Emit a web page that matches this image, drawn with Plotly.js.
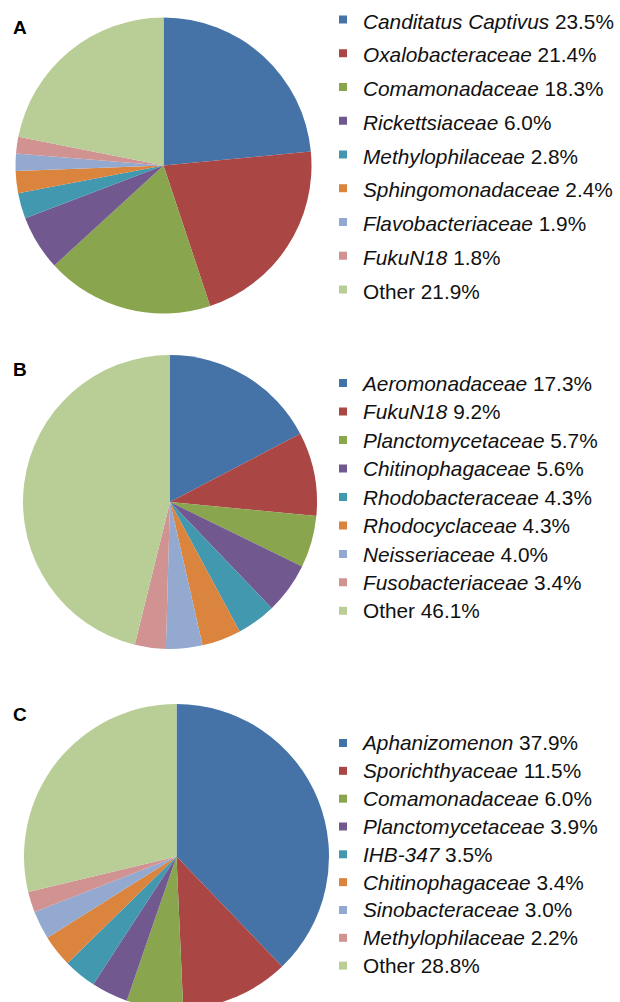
<!DOCTYPE html>
<html>
<head>
<meta charset="utf-8">
<script src="https://cdn.plot.ly/plotly-3.0.1.min.js"></script>
<style>
html, body { margin:0; padding:0; overflow:hidden; background:#fff; }
#chart { width:640px; height:1010px; }
</style>
</head>
<body>
<div id="chart"></div>
<script>
// ---- data ----
const namesA = ["Canditatus Captivus", "Oxalobacteraceae", "Comamonadaceae", "Rickettsiaceae", "Methylophilaceae", "Sphingomonadaceae", "Flavobacteriaceae", "FukuN18", "Other"];
const valuesA = [23.5, 21.4, 18.3, 6.0, 2.8, 2.4, 1.9, 1.8, 21.9];

const namesB = ["Aeromonadaceae", "FukuN18", "Planctomycetaceae", "Chitinophagaceae", "Rhodobacteraceae", "Rhodocyclaceae", "Neisseriaceae", "Fusobacteriaceae", "Other"];
const valuesB = [17.3, 9.2, 5.7, 5.6, 4.3, 4.3, 4.0, 3.4, 46.1];

const namesC = ["Aphanizomenon", "Sporichthyaceae", "Comamonadaceae", "Planctomycetaceae", "IHB-347", "Chitinophagaceae", "Sinobacteraceae", "Methylophilaceae", "Other"];
const valuesC = [37.9, 11.5, 6.0, 3.9, 3.5, 3.4, 3.0, 2.2, 28.8];

const panelLabels = ["A", "B", "C"];

// ---- styling ----
const colors = ["#4572A7", "#AA4643", "#89A54E", "#71588F", "#4198AF", "#DB843D", "#93A9CF", "#D19392", "#B9CD96"];
const W = 640, H = 1010;
const FONT = "Liberation Sans, Arial, Helvetica, sans-serif";
const TEXT_SIZE = 20.8;

function dx(a, b) { return [a / W, b / W]; }
function dy(top, bottom) { return [1 - bottom / H, 1 - top / H]; }

function makeLabels(names, values) {
  return names.map((n, i) => {
    const nm = (n === "Other") ? n : "<i>" + n + "</i>";
    return '<span style="font-size:' + TEXT_SIZE + 'px">' + nm + " " + values[i].toFixed(1) + "%</span>";
  });
}

function pie(names, values, domX, domY, legendId) {
  return {
    type: "pie",
    labels: makeLabels(names, values),
    values: values,
    sort: false,
    direction: "clockwise",
    rotation: 0,
    textinfo: "none",
    hoverinfo: "label",
    marker: { colors: colors, line: { width: 0 } },
    domain: { x: domX, y: domY },
    legend: legendId
  };
}

const data = [
  pie(namesA, valuesA, dx(15.5, 311.5), dy(17.5, 313.5), "legend"),
  pie(namesB, valuesB, dx(23, 317), dy(355, 649), "legend2"),
  pie(namesC, valuesC, dx(24, 329), dy(704, 1009), "legend3")
];

function legendSpec(fontSize, firstCenterY, leftX) {
  const h = fontSize * 1.3 + 3;
  const top = firstCenterY - h / 2 - 5;
  return {
    x: leftX / W, xanchor: "left",
    y: 1 - top / H, yanchor: "top",
    bgcolor: "rgba(0,0,0,0)",
    borderwidth: 0,
    font: { family: FONT, size: fontSize, color: "#111" },
    itemclick: false, itemdoubleclick: false
  };
}

const labelPos = [[19.5, 27], [20, 369.5], [19.5, 714.5]];

const layout = {
  width: W, height: H,
  margin: { l: 0, r: 0, t: 0, b: 0, autoexpand: false },
  paper_bgcolor: "#fff",
  showlegend: true,
  legend: legendSpec(23.65, 19.5, 323),
  legend2: legendSpec(19.6, 383, 323),
  legend3: legendSpec(19.1, 743, 323),
  annotations: panelLabels.map((t, i) => ({
    text: "<b>" + t + "</b>",
    xref: "paper", yref: "paper",
    x: labelPos[i][0] / W, y: 1 - labelPos[i][1] / H,
    xanchor: "center", yanchor: "middle",
    showarrow: false,
    font: { family: FONT, size: 19, color: "#000" }
  }))
};

Plotly.newPlot("chart", data, layout, { staticPlot: true, displayModeBar: false }).then(function (gd) {
  // smaller square legend swatches, as in the original figure
  gd.querySelectorAll("path.legendpie").forEach(function (p) {
    p.setAttribute("d", "M4,4H-4V-4H4Z");
  });
});
</script>
</body>
</html>
